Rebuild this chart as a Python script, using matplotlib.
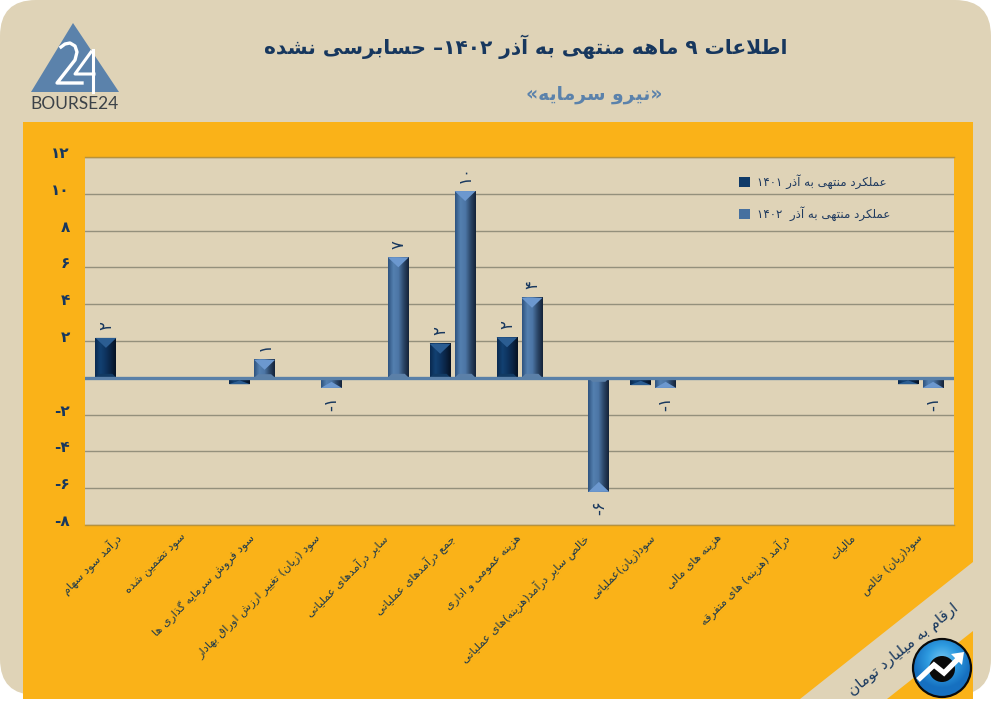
import numpy as np
import matplotlib
matplotlib.use('Agg')
import matplotlib.pyplot as plt
from matplotlib.colors import LinearSegmentedColormap
from matplotlib.patches import Circle, FancyBboxPatch, Patch, Polygon, Rectangle
from matplotlib.transforms import ScaledTranslation

plt.rcParams['font.family'] = ['DejaVu Sans']

# --- data ---
categories = ['درآمد سود سهام', 'سود تضمین شده', 'سود فروش سرمایه گذاری ها',
              'سود (زیان) تغییر ارزش اوراق بهادار', 'سایر درآمدهای عملیاتی',
              'جمع درآمدهای عملیاتی', 'هزینه عمومی و اداری',
              'خالص سایر درآمد(هزینه)های عملیاتی', 'سود(زیان)عملیاتی',
              'هزینه های مالی', 'درآمد (هزینه) های متفرقه', 'مالیات', 'سود(زیان) خالص']
values_1401 = [2.17, 0, -0.35, 0, 0, 1.85, 2.2, 0, -0.4, 0, -0.1, 0, -0.35]
values_1402 = [0, 0, 0.98, -0.55, 6.55, 10.15, 4.35, -6.2, -0.55, -0.1, -0.1, 0, -0.55]
y_ticks = [-8, -6, -4, -2, 2, 4, 6, 8, 10, 12]
y_tick_labels = ['-۸', '-۶', '-۴', '-۲', '۲', '۴', '۶', '۸', '۱۰', '۱۲']
legend_1401 = 'عملکرد منتهی به آذر ۱۴۰۱'
legend_1402 = 'عملکرد منتهی به آذر  ۱۴۰۲'
title = 'اطلاعات ۹ ماهه منتهی به آذر ۱۴۰۲– حسابرسی نشده'
subtitle = '«نیرو سرمایه»'
unit_note = 'ارقام به میلیارد تومان'

BEIGE = '#DFD3B7'
ORANGE = '#FAB218'
NAVY = '#17375E'
STEEL = '#5B82AB'

# matplotlib does no arabic shaping, so pick the presentation forms by hand
# letter: isolated, final, initial, medial
forms = {'ا': 'ﺍﺎ', 'آ': 'ﺁﺂ', 'د': 'ﺩﺪ', 'ذ': 'ﺫﺬ', 'ر': 'ﺭﺮ', 'ز': 'ﺯﺰ', 'ژ': 'ﮊﮋ', 'و': 'ﻭﻮ',
         'ب': 'ﺏﺐﺑﺒ', 'پ': 'ﭖﭗﭘﭙ', 'ت': 'ﺕﺖﺗﺘ', 'ث': 'ﺙﺚﺛﺜ', 'ج': 'ﺝﺞﺟﺠ', 'چ': 'ﭺﭻﭼﭽ',
         'ح': 'ﺡﺢﺣﺤ', 'خ': 'ﺥﺦﺧﺨ', 'س': 'ﺱﺲﺳﺴ', 'ش': 'ﺵﺶﺷﺸ', 'ص': 'ﺹﺺﺻﺼ', 'ض': 'ﺽﺾﺿﻀ',
         'ط': 'ﻁﻂﻃﻄ', 'ظ': 'ﻅﻆﻇﻈ', 'ع': 'ﻉﻊﻋﻌ', 'غ': 'ﻍﻎﻏﻐ', 'ف': 'ﻑﻒﻓﻔ', 'ق': 'ﻕﻖﻗﻘ',
         'ک': 'ﮎﮏﮐﮑ', 'گ': 'ﮒﮓﮔﮕ', 'ل': 'ﻝﻞﻟﻠ', 'م': 'ﻡﻢﻣﻤ', 'ن': 'ﻥﻦﻧﻨ', 'ه': 'ﻩﻪﻫﻬ',
         'ی': 'ﯼﯽﯾﯿ'}
mirror = {'(': ')', ')': '(', '«': '»', '»': '«'}
digits = '۰۱۲۳۴۵۶۷۸۹'


def fa(text):
    out = []
    i = 0
    prev_joins = False
    while i < len(text):
        c = text[i]
        if c not in forms:
            out.append(mirror.get(c, c))
            prev_joins = False
            i += 1
            continue
        if c == 'ل' and i + 1 < len(text) and text[i + 1] == 'ا':
            out.append('ﻼ' if prev_joins else 'ﻻ')
            prev_joins = False
            i += 2
            continue
        f = forms[c]
        next_ok = i + 1 < len(text) and text[i + 1] in forms
        if len(f) == 4 and next_ok:
            out.append(f[3] if prev_joins else f[2])
            prev_joins = True
        else:
            out.append(f[1] if prev_joins else f[0])
            prev_joins = False
        i += 1
    # visual order, digit runs stay left to right
    out = out[::-1]
    res = []
    run = []
    for c in out:
        if c in digits:
            run.append(c)
        else:
            res.extend(run[::-1])
            run = []
            res.append(c)
    res.extend(run[::-1])
    return ''.join(res)


fig = plt.figure(figsize=(9.91, 7.18), dpi=100, facecolor='white')

# --- background in pixel coordinates ---
bg = fig.add_axes([0, 0, 1, 1], zorder=0)
bg.set_xlim(0, 991)
bg.set_ylim(718, 0)
bg.axis('off')
bg.add_patch(FancyBboxPatch((0, 0), 991, 695, boxstyle='round,pad=0,rounding_size=36', fc=BEIGE, ec='none'))
bg.add_patch(Rectangle((23, 122), 950, 577, fc=ORANGE, ec='none'))
bg.add_patch(Polygon([(973, 562), (800, 699), (887, 699), (973, 631)], fc=BEIGE, ec='none'))

# logo top left
bg.add_patch(Polygon([(73, 23), (31, 92), (119, 92)], fc=STEEL, ec='none'))
bg.plot([61, 65, 70, 75, 77, 75, 57, 82], [47, 44, 43, 46, 52, 60, 83, 83], color='white', lw=2.4,
        solid_joinstyle='round')
bg.plot([91, 75, 94], [52, 74, 74], color='white', lw=2.2)
bg.plot([93, 93], [50, 92], color='white', lw=2.2)
bg.text(74, 104, 'BOURSE24', ha='center', va='center', fontsize=12.5, color='#3C4248', family='Lato')

# titles
bg.text(526, 47, fa(title), ha='center', va='center', fontsize=14.5, fontweight='bold', color=NAVY)
bg.text(594, 94, fa(subtitle), ha='center', va='center', fontsize=13.5, fontweight='bold', color=STEEL)
bg.text(904, 650, fa(unit_note), ha='center', va='center', rotation=39, rotation_mode='anchor',
        fontsize=11, color=NAVY)

# round logo
yy, xx = np.mgrid[-1:1:60j, -1:1:60j]
rr = np.clip(np.hypot(xx, yy + 0.3), 0, 1)
blue = LinearSegmentedColormap.from_list('blue', ['#6FC3F0', '#2E9BE0', '#1670C0'])
disc = Circle((942, 668), 29, fc='none', ec='none', transform=bg.transData)
bg.add_patch(disc)
im = bg.imshow(rr, extent=(913, 971, 697, 639), cmap=blue, aspect='auto', zorder=3)
im.set_clip_path(disc)
bg.set_xlim(0, 991)
bg.set_ylim(718, 0)
bg.add_patch(Circle((942, 668), 29, fc='none', ec='#0A0A0A', lw=1.6, zorder=4))
bg.add_patch(Circle((942, 669), 13, fc='#0A0A0A', ec='none', zorder=4))
bg.plot([918, 934, 944, 960], [680, 665, 673, 657], color='white', lw=3.8, zorder=5,
        solid_capstyle='butt', solid_joinstyle='miter')
bg.add_patch(Polygon([(964, 652), (951, 654), (962, 665)], fc='white', ec='none', zorder=5))

# --- chart ---
ax = fig.add_axes([85 / 991, (718 - 525) / 718, 869 / 991, 368 / 718], zorder=1, facecolor=BEIGE)
ax.set_xlim(-0.5, 12.5)
ax.set_ylim(-8, 12)
ax.autoscale(False)

x = np.arange(len(categories))
bar_w = 0.314
offset = 0.187

ax.set_axisbelow(True)
ax.grid(axis='y', color='#94907C', lw=1)
for s in ('left', 'right'):
    ax.spines[s].set_visible(False)
for s in ('top', 'bottom'):
    ax.spines[s].set_color('#B8923A')
    ax.spines[s].set_linewidth(1)

ax.set_yticks(y_ticks)
ax.set_yticklabels(y_tick_labels, fontsize=11, fontweight='bold', color=NAVY)
ax.tick_params(axis='y', length=0, pad=11)
for lab in ax.get_yticklabels():
    lab.set_transform(lab.get_transform() + ScaledTranslation(0, 5 / 100, fig.dpi_scale_trans))

ax.set_xticks(x)
ax.set_xticklabels([fa(c) for c in categories], rotation=45, ha='right', va='top',
                   rotation_mode='anchor', fontsize=8.2, color='#1E3A4C')
ax.tick_params(axis='x', length=0, pad=5)
for lab in ax.get_xticklabels():
    lab.set_transform(lab.get_transform() + ScaledTranslation(-4 / 100, 0, fig.dpi_scale_trans))

px_x = 13 / 869
px_y = 20 / 368

cmap_1401 = LinearSegmentedColormap.from_list('d', ['#0A2A50', '#124172', '#0E3460', '#0A2445', '#051224'])
cmap_1402 = LinearSegmentedColormap.from_list('l', ['#2F5480', '#5480B0', '#4C76A6', '#2C4769', '#15243A'])
grad = np.linspace(0, 1, 32).reshape(1, -1)


def bevel_bars(pos, vals, cmap, tip, foot):
    bars = ax.bar(pos, vals, bar_w, color=cmap(0.4), zorder=3)
    for b, v in zip(bars, vals):
        if v == 0:
            continue
        x0 = b.get_x()
        x1 = x0 + b.get_width()
        xc = (x0 + x1) / 2
        sgn = np.sign(v)
        ax.imshow(grad, extent=(x0, x1, min(0, v), max(0, v)), cmap=cmap, aspect='auto',
                  interpolation='bilinear', zorder=3.1)
        d = min(10 * px_y, abs(v) * 0.6)
        ax.add_patch(Polygon([(x0, v), (x1, v), (xc, v - sgn * d)], fc=tip, ec='none', zorder=3.2))
        f = min(4 * px_y, abs(v) * 0.2)
        ax.add_patch(Polygon([(x0, 0), (x1, 0), (x1 - 4 * px_x, sgn * f), (x0 + 4 * px_x, sgn * f)],
                             fc=foot, ec='none', zorder=3.2))
        label = int(round(v))
        if label != 0:
            txt = str(abs(label)).translate(str.maketrans('0123456789', digits))
            txt = ('-' if label < 0 else '') + txt
            ax.annotate(txt, (xc, v), xytext=(0, 6 * sgn), textcoords='offset points',
                        ha='center', va='bottom' if v > 0 else 'top', rotation=90,
                        fontsize=12, color=NAVY, zorder=5)


bevel_bars(x - offset, values_1401, cmap_1401, '#2B5D92', '#123A63')
bevel_bars(x + offset, values_1402, cmap_1402, '#6C98CF', '#5C80A8')
ax.axhline(0, color='#5A80A8', lw=2.4, zorder=4)

ax.legend(handles=[Patch(fc='#0F3A68', label=fa(legend_1401)), Patch(fc='#46709F', label=fa(legend_1402))],
          loc='upper left', bbox_to_anchor=((739 - 85) / 869, (525 - 174) / 368), borderaxespad=0, borderpad=0,
          frameon=False, fontsize=8.6, labelcolor='#1F3A5F', handlelength=0.9, handleheight=0.9,
          handletextpad=0.6, labelspacing=1.45)

fig.savefig('out.png', dpi=100, facecolor='white')
